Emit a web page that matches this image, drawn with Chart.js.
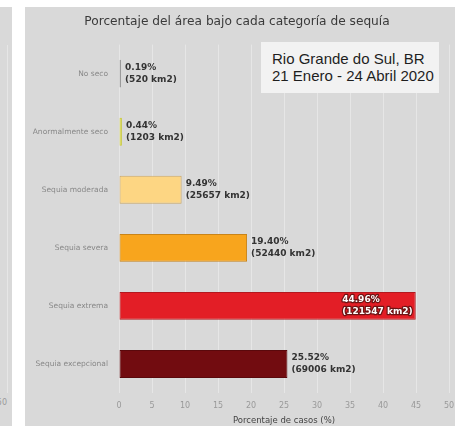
<!DOCTYPE html>
<html>
<head>
<meta charset="utf-8">
<script src="https://cdn.jsdelivr.net/npm/chart.js@4.4.1/dist/chart.umd.min.js"></script>
<style>
  html, body { margin: 0; padding: 0; background: #fff; width: 467px; height: 426px; overflow: hidden; }
  #panel { position: absolute; left: 25px; top: 7px; width: 430px; height: 419px; background: #d9d9d9; }
  #strip { position: absolute; left: 0; top: 7px; width: 12px; height: 419px; background: #d9d9d9; overflow: hidden; }
  #strip .grid { position: absolute; left: 7px; top: 38px; width: 1px; height: 348px; background: #e6e6e6; }
  #strip .tick { position: absolute; right: 5px; top: 391px; font: 8px "DejaVu Sans", sans-serif; color: #999; }
  #note { position: absolute; left: 261px; top: 42px; width: 167px; padding-left: 11px; padding-top: 8px; height: 43px;
          background: #f2f2f2; font: 15px "Liberation Sans", Arial, sans-serif; color: #1e1e1e; line-height: 17px; }
</style>
</head>
<body>
<div id="strip"><div class="grid"></div><div class="tick">50</div></div>
<div id="panel"><canvas id="chartDrought" width="430" height="419"></canvas></div>
<div id="note">Rio Grande do Sul, BR<br>21 Enero - 24 Abril 2020</div>
<script>
// categories and values
const categories = ['No seco', 'Anormalmente seco', 'Sequia moderada', 'Sequia severa', 'Sequia extrema', 'Sequia excepcional'];
const percentValues = [0.19, 0.44, 9.49, 19.40, 44.96, 25.52];
const areaValues = [520, 1203, 25657, 52440, 121547, 69006];
const barColors = ['#a9a9a9', '#e6e64a', '#fdd683', '#f8a51d', '#e31e26', '#720c10'];
const barBorders = ['#9a9a9a', '#c9c93a', '#caa868', '#c98418', '#b3191f', '#5a090c'];

window.onload = function(){
  drawDroughtChart();
}

// labels "x.xx%" + "(n km2)" next to each bar
const barLabels = {
  id: 'barLabels',
  afterDatasetsDraw(chart) {
    const ctx = chart.ctx;
    const meta = chart.getDatasetMeta(0);
    const area = chart.chartArea;
    ctx.save();
    ctx.font = 'bold 9px "DejaVu Sans", sans-serif';
    ctx.textBaseline = 'middle';
    ctx.textAlign = 'left';
    meta.data.forEach(function(bar, i){
      const l1 = percentValues[i].toFixed(2) + '%';
      const l2 = '(' + areaValues[i] + ' km2)';
      const w = Math.max(ctx.measureText(l1).width, ctx.measureText(l2).width);
      let x = bar.x + 4;
      if (x + w > area.right - 20) {
        // no room on the right: white text inside the bar end
        x = bar.x - w - 3;
        ctx.lineWidth = 2.5;
        ctx.lineJoin = 'round';
        ctx.strokeStyle = '#6e1414';
        ctx.fillStyle = '#ffffff';
        ctx.strokeText(l1, x, bar.y - 6);
        ctx.strokeText(l2, x, bar.y + 6);
        ctx.fillText(l1, x, bar.y - 6);
        ctx.fillText(l2, x, bar.y + 6);
      } else {
        ctx.fillStyle = '#333333';
        ctx.fillText(l1, x, bar.y - 6);
        ctx.fillText(l2, x, bar.y + 6);
      }
    });
    ctx.restore();
  }
};

let chart1;
function drawDroughtChart(){
  var ctx = document.getElementById('chartDrought').getContext('2d');
  if (chart1) {
    chart1.destroy();
  }
  chart1 = new Chart(ctx, {
    type: 'bar',
    data: {
      labels: categories,
      datasets: [{
        data: percentValues,
        backgroundColor: barColors,
        borderColor: barBorders,
        borderWidth: 1,
        borderSkipped: false,
        minBarLength: 2,
        barPercentage: 0.8,
        categoryPercentage: 0.6
      }]
    },
    plugins: [barLabels],
    options: {
      indexAxis: 'y',
      responsive: false,
      animation: false,
      layout: { padding: { left: 0, right: 6, top: 0, bottom: 0 } },
      plugins: {
        legend: { display: false },
        tooltip: { enabled: false },
        title: {
          display: true,
          text: 'Porcentaje del área bajo cada categoría de sequía',
          color: '#3a3a3a',
          font: { family: '"DejaVu Sans", sans-serif', size: 12.2, weight: 'normal' },
          padding: { top: 8, bottom: 15 }
        }
      },
      scales: {
        x: {
          min: 0, max: 50,
          ticks: { stepSize: 5, color: '#999', padding: 8, font: { family: '"DejaVu Sans", sans-serif', size: 8 } },
          grid: { color: '#e6e6e6', drawTicks: false },
          border: { display: false },
          title: { display: true, text: 'Porcentaje de casos (%)', color: '#444',
                   font: { family: '"DejaVu Sans", sans-serif', size: 8.5 }, padding: { top: 4, bottom: 0 } },
          afterFit: function(scale){
            scale.height = 33;
            scale.paddingLeft = 0;
            scale.paddingRight = 0;
          }
        },
        y: {
          ticks: { color: '#888', padding: 11, font: { family: '"DejaVu Sans", sans-serif', size: 7.5 } },
          grid: { display: false, drawTicks: false },
          border: { display: false },
          afterFit: function(scale){ scale.width = 94; }
        }
      }
    }
  });
}
</script>
</body>
</html>
